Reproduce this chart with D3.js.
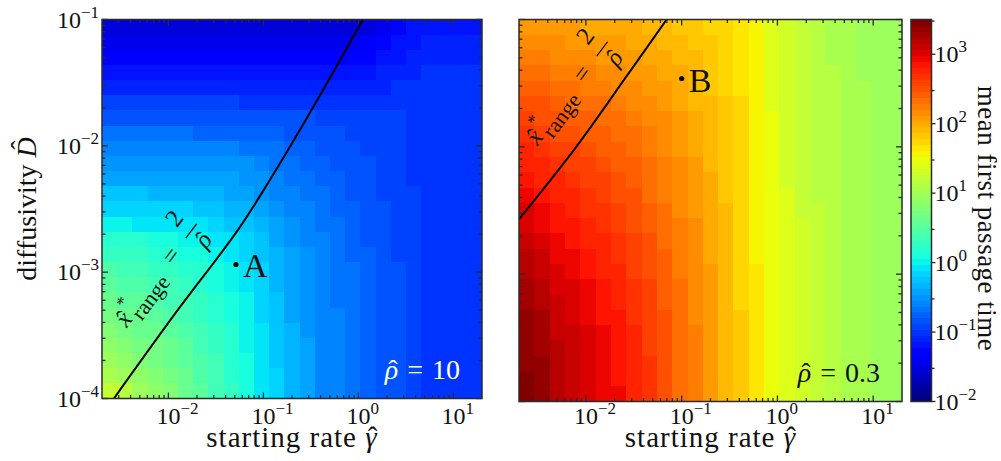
<!DOCTYPE html>
<html lang="en">
<head>
<meta charset="UTF-8">
<title>Mean first passage time</title>
<script src="https://cdn.jsdelivr.net/npm/d3@7"></script>
<style>
  body { margin: 0; background: #fff; }
  text { font-family: "Liberation Serif", "DejaVu Serif", serif; fill: #111; }
</style>
</head>
<body>
<script>
// axis ranges
const gammaRange = [0.002, 20];
const dRange = [1e-4, 1e-1];
const colorRange = [1e-2, Math.pow(10, 3.5)];
const xTickExps = [-2, -1, 0, 1];
const yTickExps = [-4, -3, -2, -1];
const cTickExps = [-2, -1, 0, 1, 2, 3];

// log10(mean first passage time)
// rows: D from 1e-1 (top) down to 1e-4, columns: gamma from 0.002 to 20
const mfptRho10 = [
  [-1.5,-1.5,-1.5,-1.5,-1.5,-1.5,-1.5,-1.5,-1.5,-1.5,-1.5,-1.5,-1.5,-1.5,-1.5,-1.5,-1.5,-1.5,-1.4,-1.3,-1.2,-1.15,-1.15,-1.15,-1.15],
  [-1.42,-1.42,-1.42,-1.42,-1.42,-1.42,-1.42,-1.42,-1.42,-1.42,-1.42,-1.42,-1.42,-1.42,-1.42,-1.42,-1.42,-1.38,-1.3,-1.22,-1.15,-1.1,-1.1,-1.1,-1.1],
  [-1.32,-1.32,-1.32,-1.32,-1.32,-1.32,-1.32,-1.32,-1.32,-1.32,-1.32,-1.32,-1.32,-1.32,-1.32,-1.32,-1.3,-1.27,-1.22,-1.17,-1.12,-1.08,-1.08,-1.08,-1.08],
  [-1.2,-1.2,-1.2,-1.2,-1.2,-1.2,-1.2,-1.2,-1.2,-1.2,-1.2,-1.2,-1.2,-1.2,-1.2,-1.2,-1.18,-1.15,-1.12,-1.1,-1.07,-1.05,-1.05,-1.05,-1.05],
  [-1.08,-1.08,-1.08,-1.08,-1.08,-1.08,-1.08,-1.08,-1.08,-1.08,-1.08,-1.08,-1.08,-1.08,-1.08,-1.08,-1.08,-1.08,-1.06,-1.05,-1.03,-1.03,-1.03,-1.03,-1.03],
  [-0.95,-0.95,-0.95,-0.95,-0.95,-0.95,-0.95,-0.95,-0.95,-0.97,-0.97,-0.97,-0.97,-0.97,-1.0,-1.0,-1.0,-1.0,-1.02,-1.02,-1.02,-1.02,-1.02,-1.02,-1.02],
  [-0.82,-0.82,-0.82,-0.82,-0.82,-0.82,-0.82,-0.85,-0.85,-0.85,-0.85,-0.88,-0.88,-0.88,-0.92,-0.92,-0.92,-0.96,-0.96,-0.96,-1.0,-1.0,-1.0,-1.0,-1.0],
  [-0.7,-0.7,-0.7,-0.7,-0.7,-0.7,-0.73,-0.73,-0.73,-0.73,-0.77,-0.77,-0.81,-0.81,-0.86,-0.86,-0.9,-0.9,-0.95,-0.95,-0.98,-1.0,-1.0,-1.0,-1.0],
  [-0.58,-0.58,-0.58,-0.58,-0.58,-0.6,-0.6,-0.6,-0.6,-0.64,-0.64,-0.68,-0.72,-0.76,-0.8,-0.84,-0.87,-0.9,-0.93,-0.96,-0.98,-1.0,-1.0,-1.0,-1.0],
  [-0.47,-0.47,-0.47,-0.47,-0.49,-0.49,-0.49,-0.49,-0.53,-0.53,-0.58,-0.63,-0.68,-0.72,-0.77,-0.81,-0.85,-0.88,-0.92,-0.95,-0.98,-1.0,-1.0,-1.0,-1.0],
  [-0.37,-0.37,-0.37,-0.37,-0.4,-0.4,-0.4,-0.4,-0.44,-0.48,-0.53,-0.59,-0.64,-0.69,-0.74,-0.79,-0.83,-0.87,-0.9,-0.94,-0.97,-1.0,-1.0,-1.0,-1.0],
  [-0.27,-0.27,-0.27,-0.3,-0.3,-0.3,-0.3,-0.33,-0.37,-0.42,-0.48,-0.55,-0.6,-0.66,-0.71,-0.76,-0.8,-0.85,-0.89,-0.93,-0.96,-0.99,-1.0,-1.0,-1.0],
  [-0.15,-0.15,-0.15,-0.18,-0.18,-0.18,-0.2,-0.24,-0.29,-0.35,-0.42,-0.5,-0.56,-0.62,-0.68,-0.73,-0.78,-0.83,-0.87,-0.91,-0.95,-0.98,-1.0,-1.0,-1.0],
  [0.0,0.0,-0.03,-0.03,-0.06,-0.06,-0.1,-0.14,-0.2,-0.27,-0.36,-0.45,-0.52,-0.59,-0.65,-0.71,-0.76,-0.81,-0.86,-0.9,-0.94,-0.97,-1.0,-1.0,-1.0],
  [0.2,0.18,0.15,0.12,0.09,0.05,0.01,-0.04,-0.1,-0.18,-0.28,-0.4,-0.48,-0.56,-0.62,-0.68,-0.74,-0.8,-0.85,-0.89,-0.93,-0.97,-1.0,-1.0,-1.0],
  [0.3,0.28,0.25,0.21,0.17,0.13,0.08,0.03,-0.03,-0.12,-0.23,-0.36,-0.45,-0.53,-0.6,-0.66,-0.72,-0.78,-0.84,-0.89,-0.93,-0.97,-1.0,-1.0,-1.0],
  [0.42,0.39,0.35,0.31,0.26,0.21,0.15,0.09,0.02,-0.07,-0.19,-0.32,-0.42,-0.51,-0.58,-0.65,-0.71,-0.77,-0.83,-0.88,-0.93,-0.97,-1.0,-1.0,-1.0],
  [0.52,0.48,0.44,0.39,0.33,0.27,0.2,0.13,0.05,-0.04,-0.16,-0.29,-0.4,-0.49,-0.57,-0.64,-0.7,-0.77,-0.83,-0.88,-0.93,-0.97,-1.0,-1.0,-1.0],
  [0.6,0.56,0.51,0.46,0.4,0.33,0.26,0.18,0.09,-0.01,-0.14,-0.27,-0.39,-0.48,-0.56,-0.63,-0.7,-0.77,-0.83,-0.88,-0.93,-0.97,-1.0,-1.0,-1.0],
  [0.68,0.64,0.59,0.53,0.46,0.39,0.31,0.22,0.12,0.02,-0.11,-0.25,-0.37,-0.47,-0.55,-0.62,-0.69,-0.76,-0.82,-0.88,-0.93,-0.97,-1.0,-1.0,-1.0],
  [0.76,0.72,0.66,0.6,0.53,0.45,0.36,0.26,0.15,0.04,-0.09,-0.23,-0.36,-0.46,-0.55,-0.62,-0.69,-0.76,-0.82,-0.88,-0.93,-0.97,-1.0,-1.0,-1.0],
  [0.85,0.8,0.74,0.67,0.59,0.5,0.4,0.3,0.18,0.06,-0.07,-0.21,-0.34,-0.45,-0.54,-0.62,-0.69,-0.76,-0.82,-0.88,-0.93,-0.97,-1.0,-1.0,-1.0],
  [0.95,0.89,0.82,0.74,0.65,0.55,0.44,0.33,0.21,0.08,-0.05,-0.2,-0.33,-0.44,-0.54,-0.62,-0.69,-0.76,-0.82,-0.88,-0.93,-0.97,-1.0,-1.0,-1.0],
  [1.07,0.99,0.9,0.81,0.71,0.6,0.48,0.36,0.23,0.1,-0.04,-0.19,-0.32,-0.44,-0.54,-0.62,-0.69,-0.76,-0.82,-0.88,-0.93,-0.97,-1.0,-1.0,-1.0],
  [1.22,1.1,0.98,0.87,0.76,0.64,0.52,0.39,0.26,0.12,-0.03,-0.18,-0.31,-0.43,-0.54,-0.62,-0.69,-0.76,-0.82,-0.88,-0.93,-0.97,-1.0,-1.0,-1.0]
];

const mfptRho03 = [
  [2.10,2.08,2.06,2.04,2.02,2.00,1.98,1.96,1.93,1.90,1.86,1.82,1.77,1.72,1.65,1.54,1.41,1.32,1.23,1.15,1.09,1.04,1.00,0.99,0.98],
  [2.18,2.16,2.13,2.11,2.08,2.06,2.04,2.01,1.98,1.94,1.89,1.85,1.79,1.73,1.66,1.55,1.41,1.32,1.23,1.15,1.09,1.04,1.00,0.99,0.98],
  [2.27,2.24,2.21,2.18,2.15,2.12,2.10,2.06,2.02,1.98,1.93,1.88,1.81,1.75,1.67,1.55,1.42,1.33,1.24,1.16,1.09,1.04,1.00,0.99,0.98],
  [2.36,2.32,2.28,2.25,2.22,2.19,2.16,2.12,2.07,2.02,1.96,1.90,1.83,1.76,1.68,1.56,1.42,1.33,1.24,1.16,1.10,1.04,1.00,0.99,0.98],
  [2.44,2.40,2.35,2.32,2.28,2.24,2.21,2.17,2.11,2.06,1.99,1.93,1.85,1.78,1.69,1.56,1.43,1.34,1.24,1.16,1.10,1.05,1.01,0.99,0.98],
  [2.52,2.47,2.42,2.38,2.34,2.30,2.27,2.21,2.16,2.09,2.02,1.95,1.87,1.79,1.70,1.56,1.43,1.34,1.25,1.16,1.10,1.05,1.01,0.99,0.98],
  [2.59,2.54,2.48,2.44,2.40,2.36,2.32,2.26,2.20,2.13,2.05,1.98,1.89,1.80,1.70,1.57,1.44,1.34,1.25,1.16,1.10,1.05,1.01,0.99,0.98],
  [2.66,2.61,2.55,2.50,2.45,2.41,2.37,2.31,2.24,2.16,2.08,2.00,1.91,1.82,1.71,1.57,1.44,1.35,1.25,1.17,1.10,1.05,1.01,0.99,0.98],
  [2.74,2.68,2.61,2.56,2.51,2.46,2.42,2.35,2.28,2.20,2.11,2.02,1.93,1.83,1.72,1.58,1.44,1.35,1.25,1.17,1.10,1.05,1.01,0.99,0.98],
  [2.81,2.75,2.67,2.62,2.56,2.51,2.46,2.39,2.31,2.23,2.13,2.05,1.94,1.84,1.73,1.58,1.45,1.35,1.26,1.17,1.11,1.05,1.01,1.00,0.98],
  [2.87,2.81,2.73,2.67,2.61,2.56,2.51,2.43,2.35,2.26,2.16,2.07,1.96,1.85,1.74,1.59,1.45,1.35,1.26,1.17,1.11,1.05,1.01,1.00,0.98],
  [2.93,2.87,2.78,2.73,2.66,2.60,2.55,2.47,2.38,2.29,2.18,2.09,1.98,1.86,1.74,1.59,1.45,1.36,1.26,1.17,1.11,1.05,1.01,1.00,0.98],
  [3.00,2.93,2.84,2.78,2.71,2.65,2.60,2.51,2.42,2.31,2.21,2.11,1.99,1.87,1.75,1.59,1.46,1.36,1.26,1.18,1.11,1.05,1.01,1.00,0.98],
  [3.05,2.98,2.88,2.82,2.75,2.69,2.63,2.54,2.45,2.34,2.23,2.13,2.00,1.88,1.76,1.60,1.46,1.36,1.27,1.18,1.11,1.05,1.01,1.00,0.98],
  [3.11,3.03,2.93,2.87,2.79,2.73,2.67,2.58,2.48,2.37,2.25,2.14,2.02,1.89,1.76,1.60,1.46,1.37,1.27,1.18,1.11,1.06,1.02,1.00,0.98],
  [3.16,3.08,2.98,2.91,2.83,2.77,2.71,2.61,2.51,2.39,2.27,2.16,2.03,1.90,1.77,1.60,1.47,1.37,1.27,1.18,1.11,1.06,1.02,1.00,0.98],
  [3.21,3.13,3.02,2.95,2.87,2.80,2.74,2.64,2.53,2.41,2.29,2.18,2.04,1.91,1.77,1.61,1.47,1.37,1.27,1.18,1.11,1.06,1.02,1.00,0.98],
  [3.25,3.17,3.06,2.99,2.91,2.83,2.77,2.67,2.56,2.43,2.31,2.19,2.05,1.92,1.78,1.61,1.47,1.37,1.27,1.18,1.12,1.06,1.02,1.00,0.98],
  [3.29,3.21,3.09,3.02,2.94,2.86,2.80,2.69,2.58,2.45,2.32,2.20,2.06,1.92,1.78,1.61,1.47,1.37,1.27,1.19,1.12,1.06,1.02,1.00,0.98],
  [3.33,3.25,3.12,3.05,2.97,2.89,2.82,2.71,2.60,2.47,2.34,2.21,2.07,1.93,1.79,1.61,1.47,1.38,1.28,1.19,1.12,1.06,1.02,1.00,0.98],
  [3.36,3.28,3.15,3.08,2.99,2.91,2.85,2.73,2.62,2.48,2.35,2.23,2.08,1.94,1.79,1.62,1.48,1.38,1.28,1.19,1.12,1.06,1.02,1.00,0.98],
  [3.39,3.30,3.18,3.10,3.01,2.94,2.87,2.75,2.63,2.50,2.36,2.23,2.09,1.94,1.79,1.62,1.48,1.38,1.28,1.19,1.12,1.06,1.02,1.00,0.98],
  [3.41,3.33,3.20,3.12,3.03,2.95,2.88,2.76,2.65,2.51,2.37,2.24,2.09,1.95,1.80,1.62,1.48,1.38,1.28,1.19,1.12,1.06,1.02,1.00,0.98],
  [3.43,3.34,3.21,3.13,3.04,2.96,2.89,2.77,2.66,2.52,2.38,2.25,2.10,1.95,1.80,1.62,1.48,1.38,1.28,1.19,1.12,1.06,1.02,1.00,0.98],
  [3.44,3.35,3.22,3.14,3.05,2.97,2.90,2.78,2.66,2.52,2.38,2.25,2.10,1.95,1.80,1.62,1.48,1.38,1.28,1.19,1.12,1.06,1.02,1.00,0.98]
];

// the x*_range = 2/rho curve, points [gamma, D]
const curveRho10 = [[0.00267,1e-4],[0.0117,4.67e-4],[0.054,2.16e-3],[0.117,5.37e-3],[0.242,0.01334],[0.501,0.0344],[1.114,0.1]];
const curveRho03 = [[0.002,2.7e-3],[0.0080,0.0101],[0.0266,0.0359],[0.0697,0.1]];

// where the curve label's "=" sits, [gamma, D]
const labelRho10 = [0.0109, 1.33e-3];
const labelRho03 = [0.0093, 0.037];

// marked points
const pointA = [0.0514, 1.15e-3];
const pointB = [0.1, 0.0344];

const W = 1001, H = 461;
const svg = d3.select("body").append("svg")
    .attr("width", W)
    .attr("height", H);

// matplotlib jet
const jetR = d3.scaleLinear().domain([0, 0.35, 0.66, 0.89, 1]).range([0, 0, 1, 1, 0.5]).clamp(true);
const jetG = d3.scaleLinear().domain([0, 0.125, 0.375, 0.64, 0.91, 1]).range([0, 0, 1, 1, 0, 0]).clamp(true);
const jetB = d3.scaleLinear().domain([0, 0.11, 0.34, 0.65, 1]).range([0.5, 1, 1, 0, 0]).clamp(true);
const nLevels = 64;
function jet(t) {
    t = Math.max(0, Math.min(nLevels - 1, Math.floor(t * nLevels))) / (nLevels - 1);
    return d3.rgb(255 * jetR(t), 255 * jetG(t), 255 * jetB(t)).toString();
}
const cLog = d3.scaleLog().domain(colorRange).range([0, 1]).clamp(true);
const color = logv => jet(cLog(Math.pow(10, logv)));

const INK = "#2b2b2b";

function sup(textSel, base, exp) {
    textSel.append("tspan").text(base);
    textSel.append("tspan").attr("font-size", 17).attr("dy", -10).text(exp);
}
const expText = e => e < 0 ? "\u2212" + (-e) : String(e);

// put a circumflex over one character of a text element
function hatOver(sel, idx, raise, shift, fill) {
    const node = sel.node();
    const e = node.getExtentOfChar(idx);
    const fs = +sel.attr("font-size");
    d3.select(node.parentNode).append("text")
        .attr("transform", sel.attr("transform"))
        .attr("x", e.x + e.width / 2 + shift * fs)
        .attr("y", +sel.attr("y") - raise * fs)
        .attr("font-size", fs)
        .attr("text-anchor", "middle")
        .style("fill", fill || "#111")
        .text("\u02c6");
}

function panel(opt) {
    const g = svg.append("g").attr("transform", `translate(${opt.x0},${opt.y0})`);
    const x = d3.scaleLog().domain(gammaRange).range([0, opt.w]);
    const y = d3.scaleLog().domain(dRange).range([opt.h, 0]);
    const grid = opt.data;
    const nr = grid.length, nc = grid[0].length;
    const gEdge = d3.range(nc + 1).map(k => gammaRange[0] * Math.pow(gammaRange[1] / gammaRange[0], k / nc));
    const dEdge = d3.range(nr + 1).map(k => dRange[1] * Math.pow(dRange[0] / dRange[1], k / nr));

    const cells = [];
    grid.forEach((row, i) => row.forEach((v, j) => cells.push({ i, j, v })));
    g.append("g").selectAll("rect")
        .data(cells)
        .enter().append("rect")
        .attr("x", d => x(gEdge[d.j]))
        .attr("y", d => y(dEdge[d.i]))
        .attr("width", d => x(gEdge[d.j + 1]) - x(gEdge[d.j]) + 0.4)
        .attr("height", d => y(dEdge[d.i + 1]) - y(dEdge[d.i]) + 0.4)
        .attr("fill", d => color(d.v))
        .attr("shape-rendering", "crispEdges");

    const clipId = "clip" + opt.id;
    g.append("clipPath").attr("id", clipId)
        .append("rect").attr("width", opt.w).attr("height", opt.h);

    // threshold curve
    const line = d3.line()
        .x(d => x(d[0]))
        .y(d => y(d[1]))
        .curve(d3.curveCatmullRom);
    g.append("path")
        .datum(opt.curve)
        .attr("clip-path", `url(#${clipId})`)
        .attr("d", line)
        .attr("fill", "none")
        .attr("stroke", "#000")
        .attr("stroke-width", 2);

    // curve label, rotated along the curve
    const lab = g.append("g")
        .attr("transform", `translate(${x(opt.label[0])},${y(opt.label[1])}) rotate(-53)`);
    const xh = lab.append("text").attr("x", -79).attr("y", 7).attr("font-size", 25)
        .attr("font-style", "italic").attr("text-anchor", "middle").text("x");
    hatOver(xh, 0, 0, 0.06);
    lab.append("text").attr("x", -71).attr("y", -6).attr("font-size", 18).text("*");
    lab.append("text").attr("x", -70).attr("y", 15).attr("font-size", 22).text("range");
    lab.append("text").attr("x", 0).attr("y", 7).attr("font-size", 25)
        .attr("text-anchor", "middle").text("=");
    lab.append("text").attr("x", 32).attr("y", -13).attr("font-size", 25)
        .attr("text-anchor", "middle").text("2");
    lab.append("line").attr("x1", 23).attr("x2", 41).attr("y1", 0).attr("y2", 0)
        .attr("stroke", "#000").attr("stroke-width", 1.2);
    const rh = lab.append("text").attr("x", 32).attr("y", 23).attr("font-size", 25)
        .attr("font-style", "italic").attr("text-anchor", "middle").text("\u03c1");
    hatOver(rh, 0, 0, 0.05);

    // marked point
    const px = x(opt.point[0]), py = y(opt.point[1]);
    g.append("circle").attr("cx", px).attr("cy", py).attr("r", 2.6).attr("fill", "#000");
    g.append("text").attr("x", px + 7).attr("y", py + 13).attr("font-size", 34).text(opt.pointName);

    // rho label
    const rl = g.append("text")
        .attr("x", opt.w - 22).attr("y", opt.h - 20)
        .attr("font-size", 28)
        .attr("text-anchor", "end")
        .style("fill", opt.rhoColor);
    rl.append("tspan").attr("font-style", "italic").text("\u03c1");
    rl.append("tspan").attr("dx", 9).text("=");
    rl.append("tspan").attr("dx", 9).text(opt.rho);
    hatOver(rl, 0, 0, 0.05, opt.rhoColor);

    // frame and ticks (inward, all four sides)
    g.append("rect").attr("width", opt.w).attr("height", opt.h)
        .attr("fill", "none").attr("stroke", INK).attr("stroke-width", 1.5);

    const minor = (lo, hi) => {
        const out = [];
        for (let e = Math.floor(Math.log10(lo)); e <= Math.ceil(Math.log10(hi)); e++) {
            for (let m = 2; m <= 9; m++) {
                const v = m * Math.pow(10, e);
                if (v > lo && v < hi) out.push(v);
            }
        }
        return out;
    };
    const ticks = g.append("g").attr("stroke", INK).attr("stroke-width", 1.3);
    const xMaj = xTickExps.map(e => Math.pow(10, e));
    const yMaj = yTickExps.map(e => Math.pow(10, e));
    [[xMaj, 6], [minor(...gammaRange), 3.5]].forEach(([vals, len]) => {
        vals.forEach(v => {
            ticks.append("line").attr("x1", x(v)).attr("x2", x(v)).attr("y1", opt.h).attr("y2", opt.h - len);
            ticks.append("line").attr("x1", x(v)).attr("x2", x(v)).attr("y1", 0).attr("y2", len);
        });
    });
    [[yMaj, 6], [minor(...dRange), 3.5]].forEach(([vals, len]) => {
        vals.forEach(v => {
            ticks.append("line").attr("y1", y(v)).attr("y2", y(v)).attr("x1", 0).attr("x2", len);
            ticks.append("line").attr("y1", y(v)).attr("y2", y(v)).attr("x1", opt.w).attr("x2", opt.w - len);
        });
    });

    // x tick labels: "10" centred on the tick
    xTickExps.forEach(e => {
        const t = g.append("text")
            .attr("x", x(Math.pow(10, e)) - 12)
            .attr("y", 424 - opt.y0)
            .attr("font-size", 24);
        sup(t, "10", expText(e));
    });
    if (opt.yLabels) {
        yTickExps.forEach(e => {
            const t = g.append("text")
                .attr("x", -3)
                .attr("y", y(Math.pow(10, e)) + 8)
                .attr("font-size", 24)
                .attr("text-anchor", "end");
            sup(t, "10", expText(e));
        });
        const yl = g.append("text")
            .attr("transform", `translate(${-66},${opt.h / 2}) rotate(-90)`)
            .attr("x", 0).attr("y", 0)
            .attr("text-anchor", "middle")
            .attr("font-size", 28);
        yl.append("tspan").text("diffusivity ");
        yl.append("tspan").attr("font-style", "italic").text("D");
        hatOver(yl, 12, 0.2, 0.08);
    }
    const xl = g.append("text")
        .attr("x", opt.w / 2).attr("y", 446.5 - opt.y0)
        .attr("text-anchor", "middle")
        .attr("letter-spacing", 1)
        .attr("font-size", 29);
    xl.append("tspan").text("starting rate ");
    xl.append("tspan").attr("font-style", "italic").text("\u03b3");
    hatOver(xl, 14, 0, 0.04);
}

panel({ id: "a", x0: 102, y0: 19.5, w: 380, h: 379, data: mfptRho10, curve: curveRho10,
        label: labelRho10, point: pointA, pointName: "A", rho: "10", rhoColor: "#fff", yLabels: true });
panel({ id: "b", x0: 519, y0: 19.5, w: 383, h: 382, data: mfptRho03, curve: curveRho03,
        label: labelRho03, point: pointB, pointName: "B", rho: "0.3", rhoColor: "#111", yLabels: false });

// colorbar
const cb = svg.append("g").attr("transform", "translate(911,19.5)");
const cbW = 20.5, cbH = 382;
const cy = d3.scaleLog().domain(colorRange).range([cbH, 0]);
const bands = d3.range(nLevels);
cb.append("g").selectAll("rect")
    .data(bands)
    .enter().append("rect")
    .attr("x", 0)
    .attr("width", cbW)
    .attr("y", k => cbH - (k + 1) * cbH / nLevels)
    .attr("height", cbH / nLevels + 0.5)
    .attr("fill", k => jet((k + 0.5) / nLevels))
    .attr("shape-rendering", "crispEdges");
cb.append("rect").attr("width", cbW).attr("height", cbH)
    .attr("fill", "none").attr("stroke", INK).attr("stroke-width", 1.5);
cTickExps.forEach(e => {
    const v = Math.pow(10, e);
    cb.append("line").attr("x1", cbW).attr("x2", cbW + 4).attr("y1", cy(v)).attr("y2", cy(v))
        .attr("stroke", INK).attr("stroke-width", 1.3);
    const m = 3 * v;
    if (m < colorRange[1]) {
        cb.append("line").attr("x1", cbW).attr("x2", cbW + 3).attr("y1", cy(m)).attr("y2", cy(m))
            .attr("stroke", INK).attr("stroke-width", 1.3);
    }
    const t = cb.append("text").attr("x", cbW + 3).attr("y", cy(v) + 8).attr("font-size", 24);
    sup(t, "10", expText(e));
});
cb.append("text")
    .attr("transform", `translate(${cbW + 46},${cbH / 2 + 8}) rotate(90)`)
    .attr("text-anchor", "middle")
    .attr("letter-spacing", 0.5)
    .attr("font-size", 27)
    .text("mean first passage time");
</script>
</body>
</html>
